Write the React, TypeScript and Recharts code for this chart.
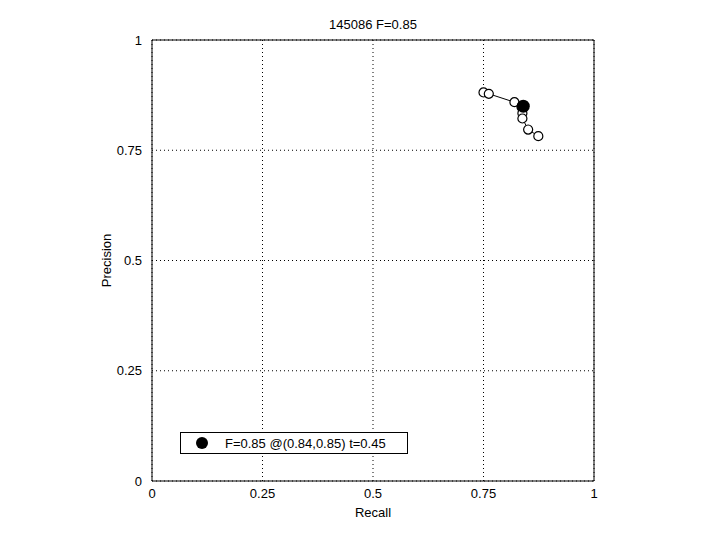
import React from 'react';
import {
  ScatterChart,
  Scatter,
  XAxis,
  YAxis,
  ZAxis,
  CartesianGrid,
  ReferenceArea,
} from 'recharts';

const recall = [0.75, 0.762, 0.82, 0.836, 0.838, 0.838, 0.851, 0.874];
const precision = [0.881, 0.878, 0.859, 0.848, 0.834, 0.822, 0.797, 0.782];
const best = { recall: 0.84, precision: 0.85 };
const ticks = [0, 0.25, 0.5, 0.75, 1];
const title = '145086 F=0.85';
const legendText = 'F=0.85 @(0.84,0.85) t=0.45';

const curve = recall.map((r, i) => ({ x: r, y: precision[i] }));
const bestPoint = [{ x: best.recall, y: best.precision }];

const font = '"Liberation Sans", Arial, sans-serif';
const fmt = (v: number) => String(v);

const LegendBox = () => (
  <div
    style={{
      position: 'absolute',
      left: 180,
      top: 432,
      width: 226,
      height: 20,
      border: '1px solid #000',
      background: '#fff',
      display: 'flex',
      alignItems: 'center',
      fontFamily: font,
      fontSize: 13,
      color: '#000',
    }}
  >
    <svg width={44} height={20}>
      <circle cx={21} cy={10} r={6} fill="#000" />
    </svg>
    <span>{legendText}</span>
  </div>
);

const App = () => {
  return (
    <div style={{ position: 'absolute', left: 0, top: 0, width: 720, height: 540, background: '#fff' }}>
      <div
        style={{
          position: 'absolute',
          top: 17,
          left: 152,
          width: 442,
          textAlign: 'center',
          fontFamily: font,
          fontSize: 13,
          color: '#000',
        }}
      >
        {title}
      </div>
      <ScatterChart
        width={720}
        height={540}
        margin={{ top: 40, right: 126, bottom: 19, left: 112 }}
        style={{ fontFamily: font }}
      >
        <CartesianGrid stroke="#000" strokeDasharray="1 3" />
        <XAxis
          type="number"
          dataKey="x"
          domain={[0, 1]}
          ticks={ticks}
          tickFormatter={fmt}
          axisLine={false}
          tickLine={false}
          tickMargin={2}
          height={40}
          tick={{ fill: '#000', fontSize: 13 }}
          label={{ value: 'Recall', position: 'insideBottom', offset: 4, fill: '#000', fontSize: 13 }}
        />
        <YAxis
          type="number"
          dataKey="y"
          domain={[0, 1]}
          ticks={ticks}
          tickFormatter={fmt}
          axisLine={false}
          tickLine={false}
          tickMargin={4}
          width={40}
          tick={{ fill: '#000', fontSize: 13 }}
          label={{ value: 'Precision', angle: -90, position: 'insideLeft', offset: -6, fill: '#000', fontSize: 13, style: { textAnchor: 'middle' } }}
        />
        <ZAxis range={[30, 30]} />
        <ReferenceArea x1={0} x2={1} y1={0} y2={1} fill="none" stroke="#000" strokeWidth={1} ifOverflow="visible" />
        <Scatter
          data={curve}
          line={{ stroke: '#000', strokeWidth: 1 }}
          fill="#fff"
          stroke="#000"
          strokeWidth={1.2}
          isAnimationActive={false}
        />
        <Scatter
          data={bestPoint}
          shape={(p: any) => <circle cx={p.cx} cy={p.cy} r={6.5} fill="#000" />}
          isAnimationActive={false}
        />
      </ScatterChart>
      <LegendBox />
    </div>
  );
};

export default App;
